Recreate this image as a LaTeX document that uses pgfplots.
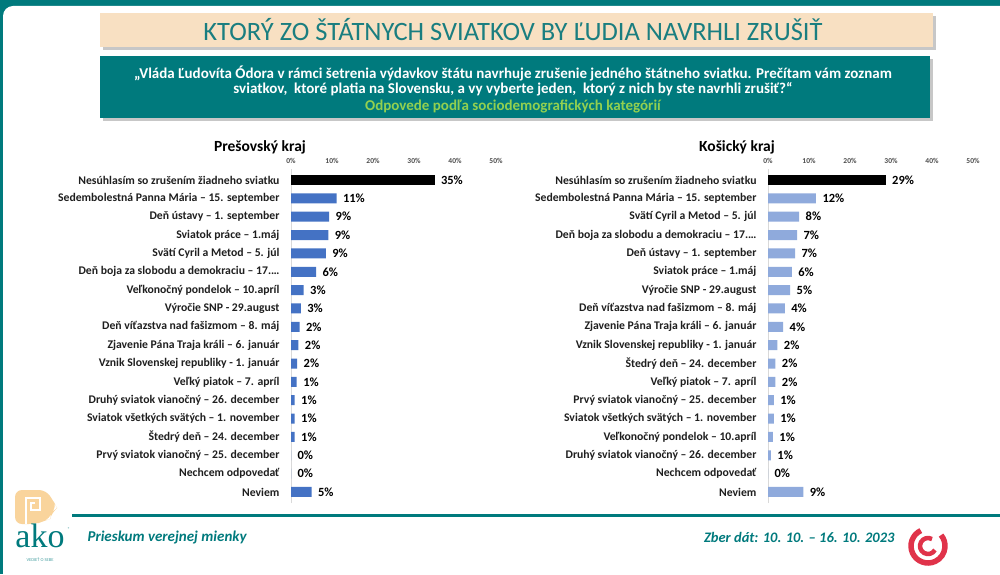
\documentclass[border=0pt]{standalone}
\usepackage{pgfplots}
\pgfplotsset{compat=1.18}
\usepackage{fontspec}
\setmainfont{Carlito}
\newfontfamily\logofont{Liberation Serif}
\definecolor{akoteal}{HTML}{007A7D}
\definecolor{titleteal}{HTML}{1A7E80}
\definecolor{peach}{HTML}{F8E0C2}
\definecolor{qgreen}{HTML}{92D050}
\definecolor{barA}{HTML}{4472C4}
\definecolor{barB}{HTML}{8FAADC}
\definecolor{logopeach}{HTML}{F9D49C}
\definecolor{spiralred}{HTML}{E0334A}

\pgfplotsset{
  krajbar/.style={
    xbar, scale only axis, width=205pt, height=334pt,
    anchor=north west,
    xmin=0, xmax=50, ymin=-0.6, ymax=17.6,
    bar width=10pt, bar shift=0pt,
    axis x line*=top, axis y line*=left,
    x axis line style={draw=none},
    y axis line style={draw=black!15, line width=1pt, -},
    major tick length=0pt,
    xtick={0,10,20,30,40,50},
    xticklabels={0\%,10\%,20\%,30\%,40\%,50\%},
    xticklabel style={font=\bfseries\fontsize{7.5}{8}\selectfont, text=black!70, yshift=2pt},
    ytick={0,...,17},
    yticklabel style={font=\bfseries\fontsize{11.7}{12}\selectfont, text=black!88, xshift=-8pt},
    point meta=explicit symbolic,
    nodes near coords={\pgfplotspointmeta\%},
    every node near coord/.append style={anchor=west, font=\bfseries\fontsize{12.5}{13}\selectfont, text=black, xshift=3pt},
    clip=false,
  }
}

\begin{document}
\begin{tikzpicture}[x=1pt,y=1pt]
\useasboundingbox (0,0) rectangle (1000,574);
\begin{scope}
  \clip (0,0) rectangle (1000,574);
  \fill[akoteal] (0,0) rectangle (1000,574);
  \fill[white, rounded corners=10pt] (3,-20) rectangle (1020,568);
\end{scope}

% title box
\fill[black!22] (103,524) rectangle (936,558);
\fill[peach] (100,527) rectangle (933,561);
\node[text=titleteal, font=\fontsize{26.5}{28}\selectfont] at (513,544) {KTORÝ ZO ŠTÁTNYCH SVIATKOV BY ĽUDIA NAVRHLI ZRUŠIŤ};

% question box
\fill[black!22] (103,453) rectangle (933,515);
\fill[akoteal] (100,456) rectangle (930,518);
\node[text=white, font=\bfseries\fontsize{15}{15}\selectfont] at (513,501) {„Vláda Ľudovíta Ódora v rámci šetrenia výdavkov štátu navrhuje zrušenie jedného štátneho sviatku. Prečítam vám zoznam};
\node[text=white, font=\bfseries\fontsize{15}{15}\selectfont] at (513,485) {sviatkov,\ \ ktoré platia na Slovensku, a vy vyberte jeden,\ \ ktorý z nich by ste navrhli zrušiť?“};
\node[text=qgreen, font=\bfseries\fontsize{15}{15}\selectfont] at (513,468) {Odpovede podľa sociodemografických kategórií};

% chart titles
\node[font=\bfseries\fontsize{15.5}{17}\selectfont] at (260,427) {Prešovský kraj};
\node[font=\bfseries\fontsize{15.5}{17}\selectfont] at (737,427) {Košický kraj};

% Prešovský kraj
\begin{axis}[krajbar, at={(291pt,405pt)},
  yticklabels={{Neviem},{Nechcem odpovedať},{Prvý sviatok vianočný – 25. december},{Štedrý deň – 24. december},{Sviatok všetkých svätých – 1. november},{Druhý sviatok vianočný – 26. december},{Veľký piatok – 7. apríl},{Vznik Slovenskej republiky - 1. január},{Zjavenie Pána Traja králi – 6. január},{Deň víťazstva nad fašizmom – 8. máj},{Výročie SNP - 29.august},{Veľkonočný pondelok – 10.apríl},{Deň boja za slobodu a demokraciu – 17.…},{Svätí Cyril a Metod – 5. júl},{Sviatok práce – 1.máj},{Deň ústavy – 1. september},{Sedembolestná Panna Mária – 15. september},{Nesúhlasím so zrušením žiadneho sviatku}}]
\addplot[fill=black, draw=none] coordinates {(35.0,17) [35]};
\addplot[fill=barA, draw=none] coordinates {
  (11.1,16) [11] (9.3,15) [9] (9.1,14) [9] (8.5,13) [9] (6.1,12) [6]
  (3.1,11) [3] (2.4,10) [3] (2.1,9) [2] (1.8,8) [2] (1.5,7) [2]
  (1.4,6) [1] (0.9,5) [1] (0.9,4) [1] (0.9,3) [1] (0,2) [0] (0,1) [0] (5.0,0) [5]
};
\end{axis}

% Košický kraj
\begin{axis}[krajbar, at={(768pt,405pt)},
  yticklabels={{Neviem},{Nechcem odpovedať},{Druhý sviatok vianočný – 26. december},{Veľkonočný pondelok – 10.apríl},{Sviatok všetkých svätých – 1. november},{Prvý sviatok vianočný – 25. december},{Veľký piatok – 7. apríl},{Štedrý deň – 24. december},{Vznik Slovenskej republiky - 1. január},{Zjavenie Pána Traja králi – 6. január},{Deň víťazstva nad fašizmom – 8. máj},{Výročie SNP - 29.august},{Sviatok práce – 1.máj},{Deň ústavy – 1. september},{Deň boja za slobodu a demokraciu – 17.…},{Svätí Cyril a Metod – 5. júl},{Sedembolestná Panna Mária – 15. september},{Nesúhlasím so zrušením žiadneho sviatku}}]
\addplot[fill=black, draw=none] coordinates {(28.7,17) [29]};
\addplot[fill=barB, draw=none] coordinates {
  (11.7,16) [12] (7.6,15) [8] (7.1,14) [7] (6.6,13) [7] (5.8,12) [6]
  (5.4,11) [5] (4.1,10) [4] (3.7,9) [4] (2.3,8) [2] (1.8,7) [2]
  (1.8,6) [2] (1.4,5) [1] (1.4,4) [1] (1.2,3) [1] (0.7,2) [1] (0,1) [0] (8.6,0) [9]
};
\end{axis}

% footer
\fill[akoteal] (72,57.5) rectangle (1000,60.5);
\node[anchor=west, text=akoteal, font=\bfseries\itshape\fontsize{15}{16}\selectfont] at (84,37) {Prieskum verejnej mienky};
\node[anchor=east, text=akoteal, font=\bfseries\itshape\fontsize{14.5}{15}\selectfont] at (898,37) {Zber dát: 10. 10. – 16. 10. 2023};

% AKO logo
\fill[logopeach, rounded corners=7pt] (15,50) -- (15,84) -- (46,84) -- (54,72) -- (57,66) -- (52,62) -- (50,55) -- (44,53) -- (36,50) -- cycle;
\draw[white, line width=2pt] (26,50) -- (26,76) -- (40,76) -- (40,64) -- (31,64) -- (31,71) -- (35,71);
\node[anchor=base, text=akoteal, font=\logofont\fontsize{34}{34}\selectfont] at (40,27) {ako};
\node[text=akoteal, font=\fontsize{4}{4}\selectfont] at (69,45) {®};
\node[text=akoteal!70, font=\fontsize{4.5}{5}\selectfont] at (40,14) {VEDIEŤ O SEBE};

% spiral logo
\draw[spiralred, line width=5.5pt] (928,28) ++(115:17) arc[start angle=115, end angle=400, radius=17];
\draw[spiralred, line width=4.5pt] (928,28) ++(60:8) arc[start angle=60, end angle=330, radius=8];
\end{tikzpicture}
\end{document}
